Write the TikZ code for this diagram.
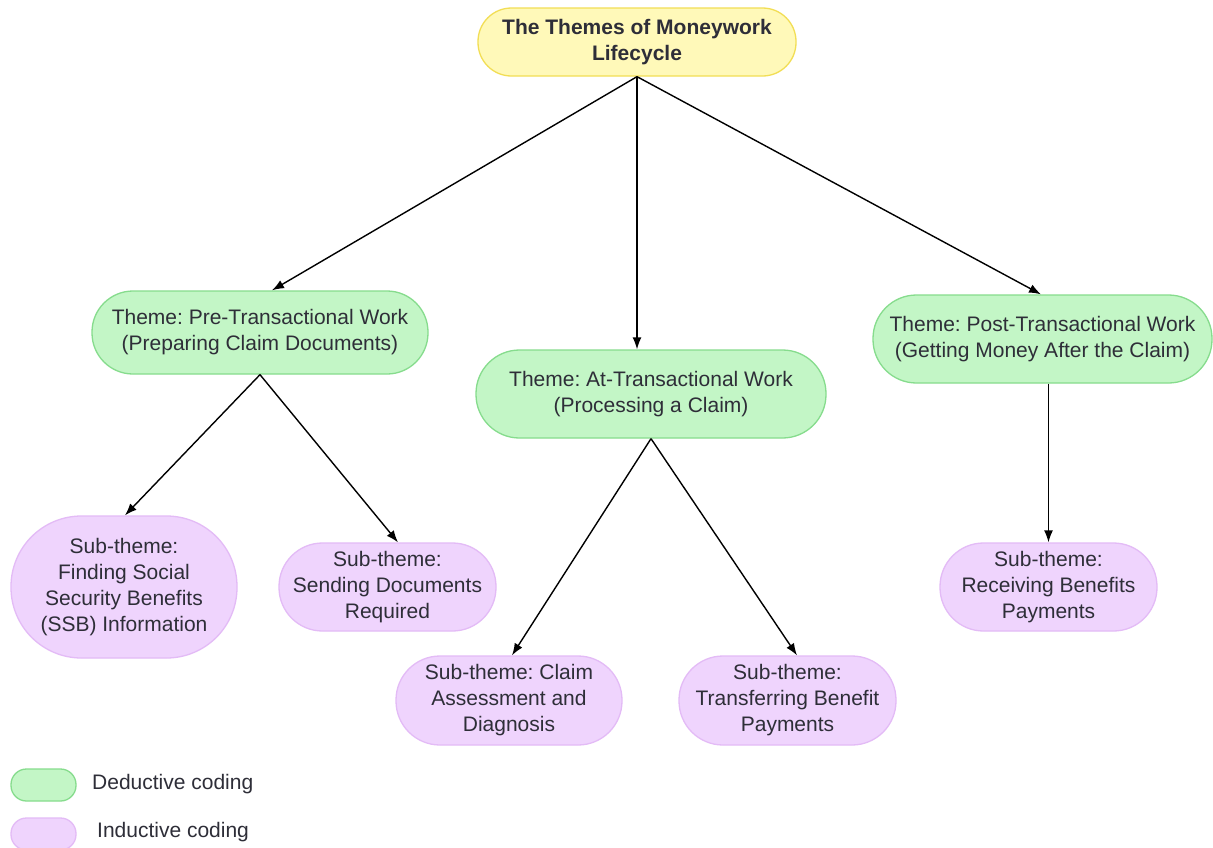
\documentclass[tikz,border=0pt]{standalone}
\usepackage{fontspec}
\setmainfont{Liberation Sans}
\usetikzlibrary{arrows.meta}
\frenchspacing

\definecolor{txt}{HTML}{2E2E38}
\definecolor{ylwfill}{HTML}{FFF9B9}
\definecolor{ylwline}{HTML}{F2DE55}
\definecolor{grnfill}{HTML}{C3F6C6}
\definecolor{grnline}{HTML}{86DC8D}
\definecolor{prpfill}{HTML}{EFD4FD}
\definecolor{prpline}{HTML}{E3BBF6}

\tikzset{
  pill/.style n args={2}{minimum width=#1pt, minimum height=#2pt,
    rounded corners={(#2-1)/2}, inner sep=0pt, align=center, text=txt,
    font=\fontsize{21}{26}\selectfont, line width=1.3pt},
  rootbox/.style={fill=ylwfill, draw=ylwline},
  themebox/.style={fill=grnfill, draw=grnline},
  subbox/.style={fill=prpfill, draw=prpline},
  arr/.style={draw=black, line width=1.4pt, -{Latex[length=12pt,width=9pt]}},
  legendtext/.style={anchor=west, inner sep=0pt, text=txt, font=\fontsize{21}{26}\selectfont}
}

\begin{document}
\begin{tikzpicture}[x=1pt,y=-1pt]
\useasboundingbox (0,0) rectangle (1213,847);
\fill[white] (0,0) rectangle (1213,847);

% root
\node[pill={318}{68}, rootbox, font=\fontsize{21}{26}\selectfont\bfseries] (root) at (637,42)
  {The Themes of Moneywork\\Lifecycle};

% themes
\node[pill={336}{83}, themebox] (pre) at (260,332.5)
  {Theme: Pre-Transactional Work\\(Preparing Claim Documents)};
\node[pill={350}{88}, themebox] (at) at (651,394)
  {Theme: At-Transactional Work\\(Processing a Claim)};
\node[pill={339}{88}, themebox] (post) at (1042.5,339)
  {Theme: Post-Transactional Work\\(Getting Money After the Claim)};

% sub-themes
\node[pill={226}{142}, subbox] (ssb) at (124,587)
  {Sub-theme:\\Finding Social\\Security Benefits\\(SSB) Information};
\node[pill={217}{88}, subbox] (send) at (387.5,587)
  {Sub-theme:\\Sending Documents\\Required};
\node[pill={226}{89}, subbox] (claim) at (509,700.5)
  {Sub-theme: Claim\\Assessment and\\Diagnosis};
\node[pill={217}{89}, subbox] (transfer) at (787.5,700.5)
  {Sub-theme:\\Transferring Benefit\\Payments};
\node[pill={217}{88}, subbox] (recv) at (1048.5,587)
  {Sub-theme:\\Receiving Benefits\\Payments};

% connectors
\draw[arr] (root.south) -- ([xshift=12pt]pre.north);
\draw[arr] (root.south) -- ([xshift=-14pt]at.north);
\draw[arr] (root.south) -- ([xshift=-1.5pt]post.north);
\draw[arr] (pre.south) -- ([xshift=1pt]ssb.north);
\draw[arr] (pre.south) -- ([xshift=10.5pt]send.north);
\draw[arr] (at.south) -- ([xshift=3pt]claim.north);
\draw[arr] (at.south) -- ([xshift=9.5pt]transfer.north);
\draw[arr] ([xshift=6pt]post.south) -- (recv.north);

% legend
\node[pill={65}{32}, themebox] (lgreen) at (43.5,785) {};
\node[legendtext] (lgreentext) at (92,784.5) {Deductive coding};
\node[pill={65}{32}, subbox] (lpurple) at (43.5,834) {};
\node[legendtext] (lpurpletext) at (97,832.5) {Inductive coding};
\end{tikzpicture}
\end{document}
